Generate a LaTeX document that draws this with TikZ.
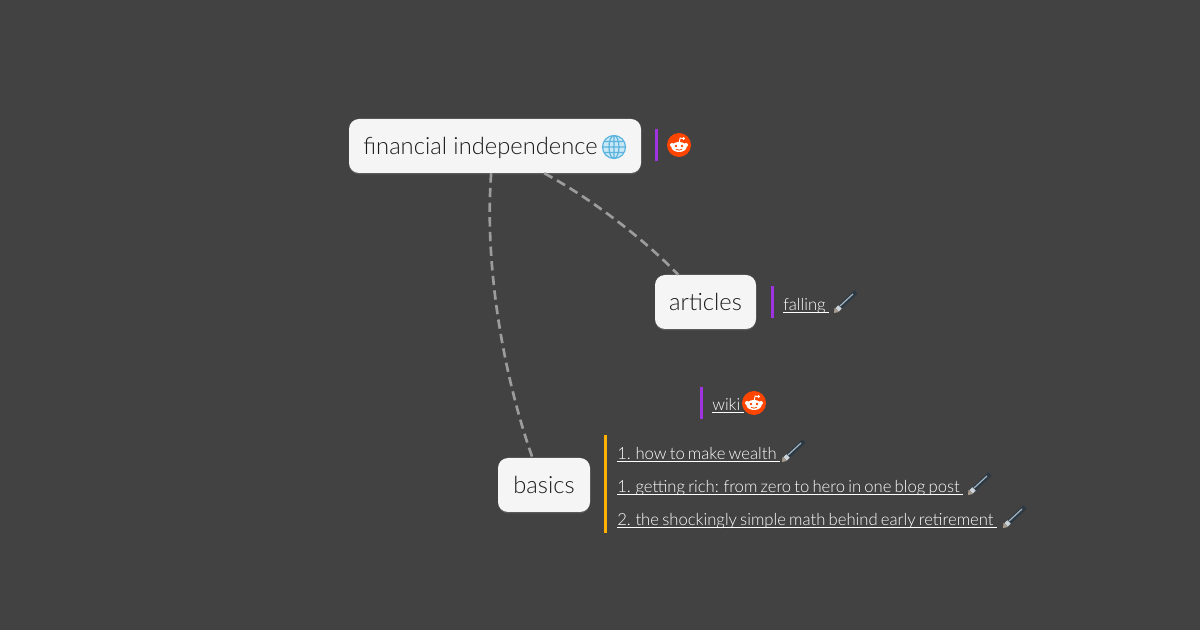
\documentclass[tikz,border=0pt]{standalone}
\usepackage{fontspec}
\usepackage{tikz}
\usetikzlibrary{shadows}

\setmainfont{Lato Light}
\newfontfamily\linkfont[WordSpace=0.7]{Lato Light}
\newcommand{\linkline}[1]{\setbox0=\hbox{#1}\rlap{\copy0}\rule[-1pt]{\wd0}{0.6pt}}

\definecolor{canvasgray}{HTML}{424242}
\definecolor{boxwhite}{HTML}{F5F5F5}
\definecolor{inkgray}{HTML}{1A1A1A}
\definecolor{linkgray}{HTML}{9C9C9C}
\definecolor{barpurple}{HTML}{A033E0}
\definecolor{baramber}{HTML}{FFB300}
\definecolor{redditorange}{HTML}{FF4500}
\definecolor{pendark}{HTML}{2C3842}
\definecolor{penlight}{HTML}{A4B4C0}
\definecolor{pencollar}{HTML}{CCD4DA}
\definecolor{pentip}{HTML}{A89C8E}
\definecolor{globefill}{HTML}{C9E8F5}
\definecolor{globeline}{HTML}{5DB4DE}

\tikzset{
	topic/.style={fill=boxwhite, rounded corners=7.5pt, inner sep=0pt, minimum height=40.5pt, text=inkgray,
		font=\fontsize{17.8}{20}\selectfont, text height=13pt, text depth=0pt,
		drop shadow={shadow xshift=0pt, shadow yshift=-1pt, opacity=0.4}},
	weblink/.style={anchor=base west, inner sep=0pt, text=white, font=\linkfont\fontsize{12.5}{14}\selectfont},
	hop/.style={draw=linkgray, line width=2pt, dash pattern=on 7pt off 4pt},
	notebar/.style={line width=2.25pt},
	pics/reddit/.style={code={
		\fill[redditorange] (0,0) circle[radius=12];
		\fill[white] (0,2) ellipse[x radius=7.6, y radius=5];
		\fill[white] (-7,0) circle[radius=2] (7,0) circle[radius=2];
		\draw[white, line width=0.7pt] (0,-2) -- (1.2,-7) -- (4,-6.4);
		\fill[white] (4.6,-6.4) circle[radius=1.5];
		\fill[redditorange] (-3,1) circle[radius=1.4] (3,1) circle[radius=1.4];
		\draw[redditorange, line width=0.6pt] (-3,4.2) .. controls (-1,5.6) and (1,5.6) .. (3,4.2);
	}},
	pics/pen/.style={code={
		\draw[draw=pendark, line width=3.5pt] (5,-5) -- (22,-21);
		\draw[draw=penlight, line width=0.9pt] (6,-7) -- (19,-19);
		\draw[draw=pencollar, line width=3.5pt] (3,-3) -- (6,-6);
		\fill[pentip] (0,0) -- (0.5,-5) -- (5,-1) -- cycle;
	}},
	pics/globe/.style={code={
		\fill[globefill] (0,0) circle[radius=11.5];
		\draw[globeline, line width=0.9pt] (0,0) circle[radius=11.5]
			(0,0) ellipse[x radius=5, y radius=11.5] (0,-11.5) -- (0,11.5) (-11.5,0) -- (11.5,0)
			(-10,-5.5) -- (10,-5.5) (-10,5.5) -- (10,5.5);
	}}
}

\begin{document}
\begin{tikzpicture}[x=0.75pt, y=-0.75pt]
	\fill[canvasgray] (0,0) rectangle (1200,630);

	\node[topic, minimum width=219pt] (finance) at (495,146) {financial independence\hspace{21.75pt}\mbox{}};
	\node[topic, minimum width=75.75pt] (articles) at (705.5,302) {articles};
	\node[topic, minimum width=69pt] (basics) at (544,485) {basics};
	\pic at (614,147) {globe};

	\draw[hop] (finance.-98) .. controls (484,270) and (505,380) .. (basics.113);
	\draw[hop] (finance.-29) .. controls (585,195) and (640,235) .. (articles.135);

	% side notes
	\draw[notebar, barpurple] (656,129) -- +(0,32);
	\draw[notebar, barpurple] (772,286) -- +(0,32);
	\draw[notebar, barpurple] (701,387) -- +(0,32);
	\draw[notebar, baramber] (605.5,435) -- +(0,98.5);
	\pic at (679,145) {reddit};
	\pic at (754,403) {reddit};

	\node[weblink] (falling) at (783,311) {\linkline{falling\ }};
	\node[weblink] (wiki) at (712,411) {\linkline{wiki\ }};
	\node[weblink] (wealth) at (617,460) {\linkline{1. how to make wealth\ }};
	\node[weblink] (rich) at (617,493) {\linkline{1. getting rich: from zero to hero in one blog post\ }};
	\node[weblink] (math) at (617,526) {\linkline{2. the shockingly simple math behind early retirement\ }};

	\foreach \x/\y in {834/313, 782/462, 968/495, 1003/528}
	{
		\pic at (\x,\y) {pen};
	}
\end{tikzpicture}
\end{document}
